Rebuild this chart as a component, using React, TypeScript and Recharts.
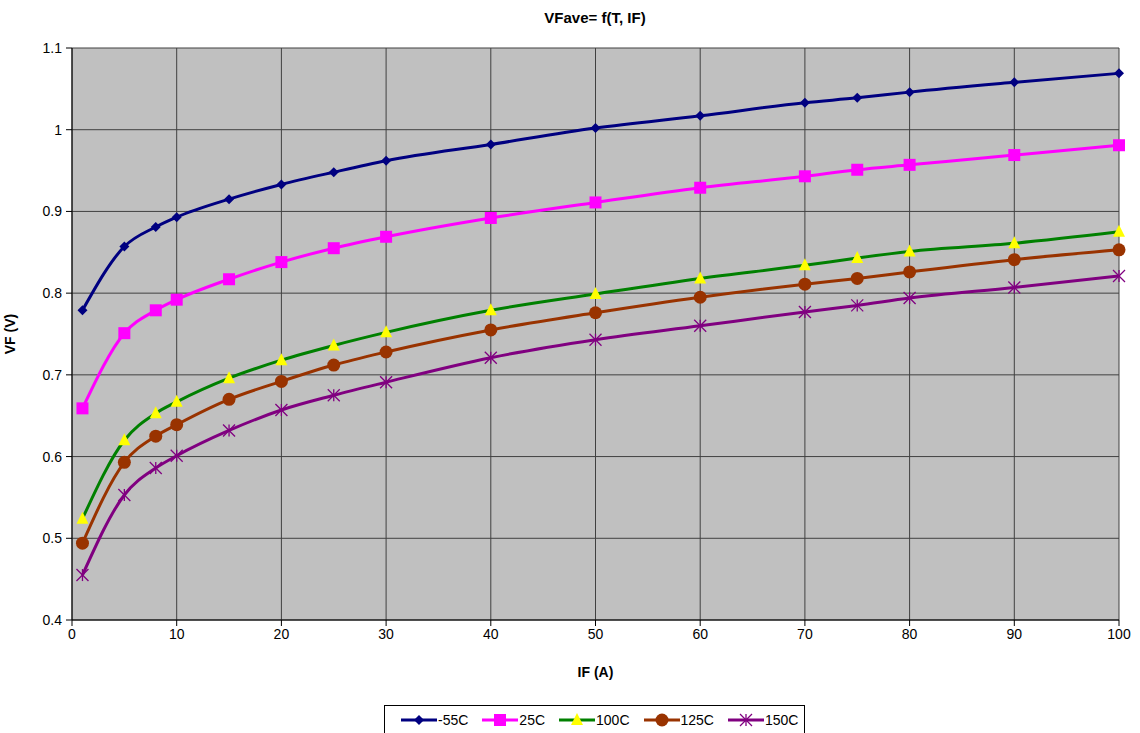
import React from "react";
import { LineChart, Line, XAxis, YAxis, CartesianGrid, Label } from "recharts";

const IF_A = [1, 5, 8, 10, 15, 20, 25, 30, 40, 50, 60, 70, 75, 80, 90, 100];

const VF_M55 = [0.779, 0.857, 0.881, 0.893, 0.915, 0.933, 0.948, 0.962, 0.982, 1.002, 1.017, 1.033, 1.039, 1.046, 1.058, 1.069];
const VF_25 = [0.659, 0.751, 0.779, 0.792, 0.817, 0.838, 0.855, 0.869, 0.892, 0.911, 0.929, 0.943, 0.951, 0.957, 0.969, 0.981];
const VF_100 = [0.524, 0.62, 0.653, 0.667, 0.696, 0.718, 0.736, 0.752, 0.779, 0.799, 0.818, 0.834, 0.843, 0.851, 0.861, 0.875];
const VF_125 = [0.494, 0.593, 0.625, 0.639, 0.67, 0.692, 0.712, 0.728, 0.755, 0.776, 0.795, 0.811, 0.818, 0.826, 0.841, 0.853];
const VF_150 = [0.455, 0.553, 0.586, 0.601, 0.632, 0.657, 0.675, 0.691, 0.721, 0.743, 0.76, 0.777, 0.785, 0.794, 0.807, 0.821];

const X_TICKS = [0, 10, 20, 30, 40, 50, 60, 70, 80, 90, 100];
const Y_TICKS = [0.4, 0.5, 0.6, 0.7, 0.8, 0.9, 1.0, 1.1];

const SERIES = [
  { key: "m55", name: "-55C", values: VF_M55, color: "#000080", marker: "diamond", fill: "#000080" },
  { key: "t25", name: "25C", values: VF_25, color: "#FF00FF", marker: "square", fill: "#FF00FF" },
  { key: "t100", name: "100C", values: VF_100, color: "#008000", marker: "triangle", fill: "#FFFF00" },
  { key: "t125", name: "125C", values: VF_125, color: "#993300", marker: "circle", fill: "#993300" },
  { key: "t150", name: "150C", values: VF_150, color: "#800080", marker: "star", fill: "#800080" },
];

const data = IF_A.map((x, i) => {
  const row: Record<string, number> = { x };
  SERIES.forEach((s) => (row[s.key] = s.values[i]));
  return row;
});

const FONT = "Arial, 'Liberation Sans', sans-serif";

function Marker({ cx, cy, type, fill, color }: any) {
  if (cx == null || cy == null) return null;
  switch (type) {
    case "diamond":
      return <polygon points={`${cx},${cy - 5} ${cx + 5},${cy} ${cx},${cy + 5} ${cx - 5},${cy}`} fill={fill} />;
    case "square":
      return <rect x={cx - 6} y={cy - 6} width={12} height={12} fill={fill} />;
    case "triangle":
      return <polygon points={`${cx},${cy - 7} ${cx + 6},${cy + 5} ${cx - 6},${cy + 5}`} fill={fill} />;
    case "circle":
      return <circle cx={cx} cy={cy} r={6.5} fill={fill} />;
    case "star":
      return (
        <g stroke={color} strokeWidth={1.3}>
          <line x1={cx - 6} y1={cy - 6} x2={cx + 6} y2={cy + 6} />
          <line x1={cx - 6} y1={cy + 6} x2={cx + 6} y2={cy - 6} />
          <line x1={cx} y1={cy - 6} x2={cx} y2={cy + 6} />
        </g>
      );
    default:
      return null;
  }
}

function LegendBox() {
  return (
    <div
      style={{
        position: "absolute",
        left: 384,
        top: 705,
        boxSizing: "border-box",
        width: 421,
        height: 30,
        display: "flex",
        alignItems: "center",
        gap: 14,
        border: "1px solid #000",
        background: "#fff",
        paddingLeft: 16,
        fontFamily: FONT,
        fontSize: 14,
      }}
    >
      {SERIES.map((s) => (
        <div key={s.key} style={{ display: "flex", alignItems: "center" }}>
          <svg width={36} height={14}>
            <line x1={0} y1={7} x2={36} y2={7} stroke={s.color} strokeWidth={3} />
            <Marker cx={18} cy={7} type={s.marker} fill={s.fill} color={s.color} />
          </svg>
          <span style={{ marginLeft: 1 }}>{s.name}</span>
        </div>
      ))}
    </div>
  );
}

const tickStyle = { fill: "#000", fontSize: 14, fontFamily: FONT };

export default function App() {
  return (
    <div style={{ position: "absolute", left: 0, top: 0, width: 1140, height: 733, background: "#fff", overflow: "hidden" }}>
      <div
        style={{
          position: "absolute",
          left: 0,
          width: 1190,
          top: 9,
          textAlign: "center",
          fontFamily: FONT,
          fontWeight: "bold",
          fontSize: 15,
        }}
      >
        VFave= f(T, IF)
      </div>
      <LineChart width={1140} height={733} data={data} margin={{ top: 48, right: 21, bottom: 83, left: 22 }}>
        <CartesianGrid fill="#C0C0C0" stroke="#404040" strokeWidth={1} horizontalValues={Y_TICKS} verticalValues={X_TICKS} />
        <XAxis
          dataKey="x"
          type="number"
          domain={[0, 100]}
          ticks={X_TICKS}
          tick={tickStyle}
          tickSize={6}
          stroke="#000"
          height={30}
          tickMargin={3}
        >
          <Label value="IF (A)" position="insideBottom" offset={-27} style={{ fill: "#000", fontWeight: "bold", fontSize: 14, fontFamily: FONT }} />
        </XAxis>
        <YAxis
          type="number"
          domain={[0.4, 1.1]}
          ticks={Y_TICKS}
          tick={tickStyle}
          tickSize={6}
          tickMargin={4}
          stroke="#000"
          width={50}
          tickFormatter={(v: number) => String(Math.round(v * 10) / 10)}
        >
          <Label value="VF (V)" angle={-90} position="insideLeft" offset={-12} style={{ fill: "#000", fontWeight: "bold", fontSize: 14, fontFamily: FONT, textAnchor: "middle" }} />
        </YAxis>
        {SERIES.map((s) => (
          <Line
            key={s.key}
            type="monotone"
            dataKey={s.key}
            name={s.name}
            stroke={s.color}
            strokeWidth={3}
            isAnimationActive={false}
            dot={(p: any) => <Marker key={`${s.key}-${p.index}`} cx={p.cx} cy={p.cy} type={s.marker} fill={s.fill} color={s.color} />}
            activeDot={false}
          />
        ))}
      </LineChart>
      <LegendBox />
    </div>
  );
}
